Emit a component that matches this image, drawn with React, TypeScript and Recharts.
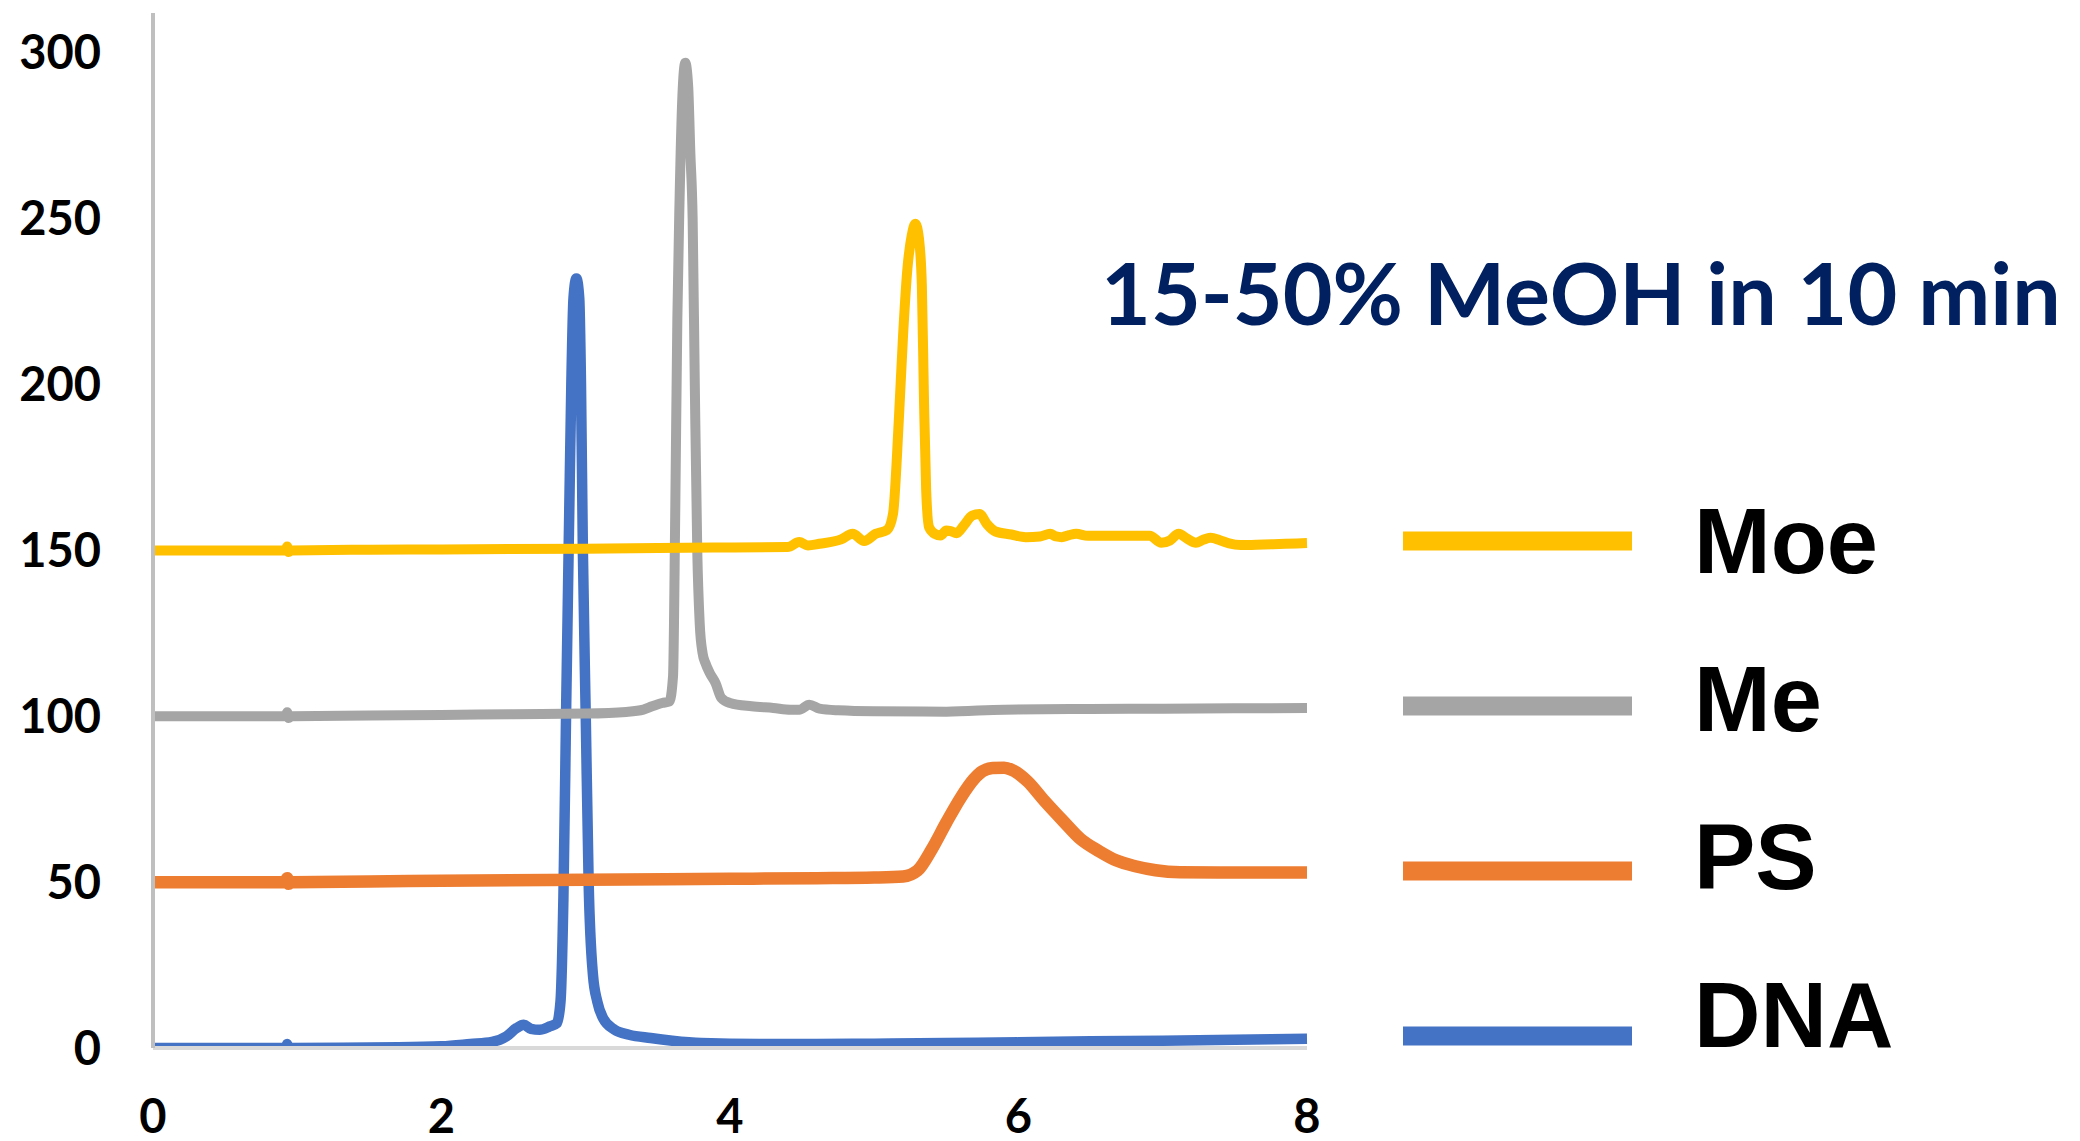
import React from 'react';
import { LineChart, Line, XAxis, YAxis, Legend } from 'recharts';

// retention time (min) / detector signal
const dnaTime = [0, 0.5, 0.92, 0.93, 0.94, 0.96, 1.3, 1.7, 2.0, 2.2, 2.35, 2.45, 2.52, 2.57, 2.62, 2.68, 2.75, 2.8, 2.825, 2.845, 2.865, 2.885, 2.9, 2.915, 2.935, 2.955, 2.967, 2.98, 3.0, 3.02, 3.05, 3.08, 3.12, 3.2, 3.3, 3.45, 3.6, 3.8, 4.2, 4.6, 5.0, 5.5, 6.0, 6.5, 7.0, 7.5, 8.0];
const dnaSignal = [0, 0, 0, 1.2, -0.3, 0, 0.1, 0.2, 0.5, 1.2, 1.8, 3.5, 6, 7, 5.8, 5.5, 6.5, 7.5, 14, 45, 105, 160, 200, 226, 232, 226, 200, 150, 100, 50, 22, 14, 9, 5.5, 4, 3, 2.2, 1.5, 1.2, 1.2, 1.3, 1.5, 1.7, 2.0, 2.2, 2.5, 2.8];

const psTime = [0, 0.5, 0.92, 0.93, 0.94, 0.96, 1.5, 2.0, 3.0, 4.0, 4.6, 5.0, 5.2, 5.3, 5.4, 5.5, 5.6, 5.69, 5.75, 5.82, 5.9, 5.97, 6.06, 6.18, 6.31, 6.43, 6.56, 6.68, 6.81, 6.95, 7.12, 7.5, 8.0];
const psSignal = [50, 50, 50, 51.2, 49.5, 50, 50.2, 50.4, 50.7, 51, 51.2, 51.4, 51.7, 53.5, 60, 68, 75.5, 81, 83.4, 84.4, 84.5, 83.5, 80.5, 74.5, 68.4, 63, 59.3, 56.5, 54.8, 53.6, 53, 52.9, 52.9];

const meTime = [0, 0.5, 0.92, 0.93, 0.94, 0.96, 1.5, 2.0, 2.5, 3.0, 3.28, 3.4, 3.46, 3.53, 3.58, 3.605, 3.62, 3.635, 3.65, 3.67, 3.69, 3.71, 3.725, 3.741, 3.756, 3.773, 3.79, 3.81, 3.83, 3.86, 3.9, 3.94, 4.0, 4.15, 4.3, 4.42, 4.48, 4.55, 4.62, 4.75, 5.0, 5.5, 5.9, 6.5, 7.0, 7.5, 8.0];
const meSignal = [100, 100, 100, 101.2, 99.5, 100, 100.2, 100.4, 100.6, 100.8, 101.3, 102, 103, 104, 104.5, 112, 160, 220, 255, 287, 297, 290, 270, 250, 200, 150, 128, 119, 116, 113, 110, 105.5, 104, 103, 102.5, 102, 102, 103.5, 102.3, 101.8, 101.5, 101.4, 102, 102.2, 102.3, 102.4, 102.5];

const moeTime = [0, 0.5, 0.92, 0.93, 0.94, 0.96, 1.5, 2.0, 3.0, 3.5, 4.0, 4.4, 4.48, 4.54, 4.62, 4.77, 4.85, 4.93, 5.01, 5.09, 5.13, 5.17, 5.2, 5.23, 5.26, 5.285, 5.31, 5.33, 5.345, 5.36, 5.38, 5.42, 5.46, 5.5, 5.53, 5.57, 5.62, 5.68, 5.73, 5.78, 5.84, 5.95, 6.05, 6.15, 6.22, 6.26, 6.3, 6.35, 6.4, 6.48, 6.7, 6.91, 6.99, 7.05, 7.11, 7.17, 7.23, 7.28, 7.33, 7.4, 7.46, 7.54, 7.7, 7.85, 8.0];
const moeSignal = [150, 150, 150, 151.2, 149.5, 150, 150.2, 150.3, 150.5, 150.7, 150.9, 151, 152.5, 151.5, 152, 153.3, 155, 152.8, 155, 156.2, 161, 189, 215, 235, 245, 248.5, 244, 230, 195, 168, 157, 155, 154.5, 156, 155.8, 155.2, 157.5, 160.5, 161, 158, 155.7, 154.8, 154, 154.2, 155, 154.2, 154, 154.6, 155, 154.4, 154.4, 154.4, 152.3, 153, 155, 153.5, 152.3, 153.2, 153.8, 153, 152.1, 151.6, 151.8, 152, 152.2];

const xTicks = [0, 2, 4, 6, 8];
const yTicks = [0, 50, 100, 150, 200, 250, 300];

const title = '15-50% MeOH in 10 min';

const toPoints = (time: number[], signal: number[]) => time.map((t, i) => ({ t, v: signal[i] }));

// drawing order matches the original: DNA at the bottom, Moe on top
const series = [
  { name: 'DNA', color: '#4472C4', width: 10.5, data: toPoints(dnaTime, dnaSignal) },
  { name: 'PS', color: '#ED7D31', width: 12.5, data: toPoints(psTime, psSignal) },
  { name: 'Me', color: '#A5A5A5', width: 10, data: toPoints(meTime, meSignal) },
  { name: 'Moe', color: '#FFC000', width: 10, data: toPoints(moeTime, moeSignal) },
];

const tickStyle = { fill: '#000', fontSize: 47, fontWeight: 700, fontFamily: 'Lato, sans-serif' };

const LegendBox = () => {
  const rows = [...series].reverse();
  return (
    <svg width={690} height={600} style={{ display: 'block' }}>
      {rows.map((s, i) => (
        <g key={s.name}>
          <rect x={13} y={61 + i * 165 - 9.5} width={229} height={19} fill={s.color} />
          <text
            x={304}
            y={93 + i * 158}
            fontFamily="'Liberation Sans', Arial, sans-serif"
            fontWeight={700}
            fontSize={92}
            fill="#000"
          >
            {s.name}
          </text>
        </g>
      ))}
    </svg>
  );
};

const App: React.FC = () => {
  return (
    <div style={{ position: 'absolute', left: 0, top: 0, width: 2080, height: 1141, background: '#fff' }}>
      <LineChart width={2080} height={1141} margin={{ top: 13, right: 773, left: 0, bottom: 0 }}>
        <XAxis
          type="number"
          dataKey="t"
          domain={[0, 8]}
          ticks={xTicks}
          height={93}
          axisLine={{ stroke: '#D9D9D9', strokeWidth: 4 }}
          tickLine={false}
          tickSize={0}
          tickMargin={52}
          tick={tickStyle}
          interval={0}
        />
        <YAxis
          type="number"
          domain={[0, 312]}
          ticks={yTicks}
          width={153}
          axisLine={{ stroke: '#BFBFBF', strokeWidth: 4 }}
          tickLine={false}
          tickSize={0}
          tickMargin={52}
          tick={tickStyle}
          interval={0}
          allowDataOverflow
        />
        {series.map((s) => (
          <Line
            key={s.name}
            name={s.name}
            data={s.data}
            dataKey="v"
            type="monotone"
            stroke={s.color}
            strokeWidth={s.width}
            style={{ strokeWidth: s.width }}
            strokeLinejoin="round"
            dot={false}
            activeDot={false}
            isAnimationActive={false}
          />
        ))}
        <Legend
          layout="vertical"
          align="center"
          verticalAlign="middle"
          content={<LegendBox />}
          wrapperStyle={{ left: 1390, top: 480, width: 690, height: 600 }}
        />
      </LineChart>
      <svg
        width={2080}
        height={1141}
        style={{ position: 'absolute', left: 0, top: 0, pointerEvents: 'none' }}
      >
        <text x={1101} y={325} fontFamily="Lato, sans-serif" fontWeight={700} fontSize={86} fill="#002060">
          {title}
        </text>
      </svg>
    </div>
  );
};

export default App;
